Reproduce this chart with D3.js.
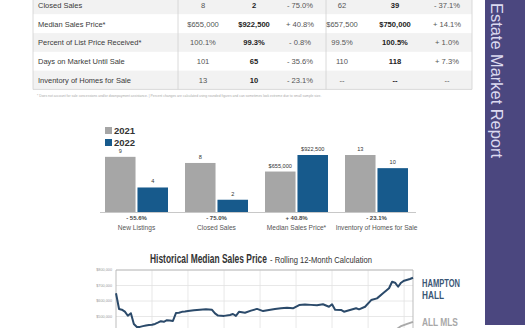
<!DOCTYPE html>
<html>
<head>
<meta charset="utf-8">
<script src="https://cdn.jsdelivr.net/npm/d3@7/dist/d3.min.js"></script>
<style>
  html, body { margin: 0; padding: 0; background: #fff; }
  svg { display: block; }
  text { font-family: "Liberation Sans", Arial, sans-serif; }
</style>
</head>
<body>
<svg id="chart" width="525" height="328"></svg>
<script>
// ---------- Table data ----------
const tableRows = ["Closed Sales", "Median Sales Price*", "Percent of List Price Received*", "Days on Market Until Sale", "Inventory of Homes for Sale"];
const month2021 = ["8", "$655,000", "100.1%", "101", "13"];
const month2022 = ["2", "$922,500", "99.3%", "65", "10"];
const monthChange = ["- 75.0%", "+ 40.8%", "- 0.8%", "- 35.6%", "- 23.1%"];
const ytd2021 = ["62", "$657,500", "99.5%", "110", "--"];
const ytd2022 = ["39", "$750,000", "100.5%", "118", "--"];
const ytdChange = ["- 37.1%", "+ 14.1%", "+ 1.0%", "+ 7.3%", "--"];
const footnote = "* Does not account for sale concessions and/or downpayment assistance.  |  Percent changes are calculated using rounded figures and can sometimes look extreme due to small sample size.";

// ---------- Bar chart data ----------
const barCategories = ["New Listings", "Closed Sales", "Median Sales Price*", "Inventory of Homes for Sale"];
const bar2021 = [9, 8, 655000, 13];
const bar2022 = [4, 2, 922500, 10];
const barLabels2021 = ["9", "8", "$655,000", "13"];
const barLabels2022 = ["4", "2", "$922,500", "10"];
const barChanges = ["- 55.6%", "- 75.0%", "+ 40.8%", "- 23.1%"];
const barDomainMax = [9.3, 9.3, 922500, 13];
const barSeries = ["2021", "2022"];

// ---------- Line chart data ----------
const hhDates = ["2014-01","2014-02","2014-03","2014-04","2014-05","2014-06","2014-07","2014-08","2014-09","2014-10","2014-11","2014-12",
  "2015-01","2015-02","2015-03","2015-04","2015-05","2015-06","2015-07","2015-08","2015-09","2015-10","2015-11","2015-12",
  "2016-01","2016-03","2016-05","2016-07","2016-09","2016-10","2016-11",
  "2017-01","2017-03","2017-04","2017-05","2017-06","2017-08","2017-10","2017-12",
  "2018-02","2018-04","2018-06","2018-08","2018-10","2018-12",
  "2019-02","2019-04","2019-06","2019-08","2019-10","2019-12",
  "2020-01","2020-02","2020-04","2020-05","2020-07","2020-09","2020-10","2020-12",
  "2021-02","2021-04","2021-06","2021-08","2021-09","2021-10","2021-11","2021-12",
  "2022-01","2022-03","2022-04"];
const hhValues = [650000,548000,544000,531000,505000,521000,452000,432000,433000,438000,442000,445000,
  447000,452000,460000,470000,466000,476000,474000,471000,522000,524000,530000,532000,
  535000,540000,544000,546000,543000,520000,506000,
  504000,510000,516000,504000,530000,524000,538000,549000,
  535000,542000,548000,553000,557000,553000,
  574000,578000,575000,572000,579000,563000,
  579000,543000,542000,531000,542000,553000,546000,563000,
  606000,617000,650000,682000,724000,718000,692000,718000,
  731000,742000,750000];
const mlsDates = ["2014-01","2015-01","2016-01","2017-01","2018-01","2019-01","2020-01","2021-01","2021-06","2021-10","2021-12","2022-02","2022-04"];
const mlsValues = [290000,305000,320000,332000,345000,352000,360000,380000,398000,412000,438000,452000,465000];
const yTicks = [500000, 600000, 700000, 800000];

// ---------- Helpers ----------
function fitWidth(sel, x, y, w) {
  const n = sel.node();
  const nat = n.getComputedTextLength();
  sel.attr("x", 0).attr("y", 0).attr("transform", `translate(${x},${y}) scale(${w / nat},1)`);
}

// ---------- Drawing ----------
const svg = d3.select("#chart");
const fmt = d3.format("$,");

// Table
const rowY = d3.scaleBand().domain(tableRows).range([-4.4, 89.4]);
const tbl = svg.append("g");
tbl.selectAll("rect.row").data(tableRows).enter().append("rect")
  .attr("x", 33).attr("width", 439)
  .attr("y", d => rowY(d)).attr("height", rowY.bandwidth())
  .attr("fill", (d, i) => i % 2 === 0 ? "#f2f2f2" : "#ffffff");
[33, 178, 326, 472].forEach(x => tbl.append("line")
  .attr("x1", x).attr("x2", x).attr("y1", 0).attr("y2", 89.4)
  .attr("stroke", "#d0d0d0").attr("stroke-width", 0.8));
tbl.append("line").attr("x1", 33).attr("x2", 472).attr("y1", 89.4).attr("y2", 89.4)
  .attr("stroke", "#d0d0d0").attr("stroke-width", 0.8);
tbl.selectAll("text.lbl").data(tableRows).enter().append("text")
  .attr("x", 38).attr("y", d => rowY(d) + rowY.bandwidth() / 2 + 2.8)
  .attr("font-size", 7.5).attr("fill", "#3a3a3a").text(d => d);
const cols = [
  {vals: month2021, x: 203, bold: false},
  {vals: month2022, x: 254, bold: true},
  {vals: monthChange, x: 300, bold: false},
  {vals: ytd2021, x: 342, bold: false},
  {vals: ytd2022, x: 395, bold: true},
  {vals: ytdChange, x: 447, bold: false}
];
cols.forEach(c => {
  tbl.selectAll(null).data(c.vals).enter().append("text")
    .attr("x", c.x).attr("y", (d, i) => rowY(tableRows[i]) + rowY.bandwidth() / 2 + 2.8)
    .attr("text-anchor", "middle").attr("font-size", 7.6)
    .attr("font-weight", c.bold ? "bold" : "normal")
    .attr("fill", c.bold ? "#222" : "#555").text(d => d);
});
svg.append("text").attr("x", 37).attr("y", 97).attr("font-size", 3.4).attr("fill", "#aaa").text(footnote);

// Sidebar
svg.append("rect").attr("x", 485).attr("y", 0).attr("width", 40).attr("height", 325).attr("fill", "#4b477f");
svg.append("text").attr("transform", "translate(491,3) rotate(90)")
  .attr("font-family", "Lato, 'Open Sans', sans-serif").attr("font-weight", 300)
  .attr("font-size", 16).attr("fill", "#dcdaf0")
  .attr("textLength", 155).attr("lengthAdjust", "spacingAndGlyphs")
  .text("Estate Market Report");

// Bar chart
const baseY = 212, maxH = 57;
const x0 = d3.scaleBand().domain(barCategories).range([105, 408]).paddingInner(0.2125).paddingOuter(0);
const x1 = d3.scaleBand().domain(barSeries).range([0, x0.bandwidth()]).paddingInner(0.06);
const barColor = d3.scaleOrdinal().domain(barSeries).range(["#a6a6a6", "#175a8c"]);
const ys = barDomainMax.map(m => d3.scaleLinear().domain([0, m]).range([baseY, baseY - maxH]));
const bg = svg.append("g");
barCategories.forEach((cat, i) => {
  const g = bg.append("g").attr("transform", `translate(${x0(cat)},0)`);
  const vals = [
    {s: "2021", v: bar2021[i], l: barLabels2021[i]},
    {s: "2022", v: bar2022[i], l: barLabels2022[i]}
  ];
  g.selectAll("rect").data(vals).enter().append("rect")
    .attr("x", d => x1(d.s)).attr("width", x1.bandwidth())
    .attr("y", d => ys[i](d.v)).attr("height", d => baseY - ys[i](d.v))
    .attr("fill", d => barColor(d.s));
  g.selectAll("text").data(vals).enter().append("text")
    .attr("x", d => x1(d.s) + x1.bandwidth() / 2).attr("y", d => ys[i](d.v) - 4)
    .attr("text-anchor", "middle").attr("font-size", 5.6).attr("fill", "#333").text(d => d.l);
  bg.append("text").attr("x", x0(cat) + x0.bandwidth() / 2).attr("y", 220)
    .attr("text-anchor", "middle").attr("font-size", 6).attr("font-weight", "bold").attr("fill", "#444").text(barChanges[i]);
  bg.append("text").attr("x", x0(cat) + x0.bandwidth() / 2).attr("y", 230)
    .attr("text-anchor", "middle").attr("font-size", 6.6).attr("fill", "#555").text(cat);
});
bg.append("line").attr("x1", 100).attr("x2", 416).attr("y1", baseY + 0.5).attr("y2", baseY + 0.5)
  .attr("stroke", "#c8c8c8").attr("stroke-width", 1);
barSeries.forEach((s, i) => {
  bg.append("rect").attr("x", 105).attr("y", 127 + i * 12).attr("width", 7).attr("height", 7).attr("fill", barColor(s));
  bg.append("text").attr("x", 114).attr("y", 134 + i * 12).attr("font-size", 9.5).attr("font-weight", "bold").attr("fill", "#333").text(s);
});

// Line chart
const parse = d3.timeParse("%Y-%m");
const xT = d3.scaleTime().domain([parse("2014-01"), parse("2022-04")]).range([116, 413]);
const yL = d3.scaleLinear().domain([300000, 800000]).range([347.5, 270]);
const lg = svg.append("g");
lg.append("g").selectAll("line").data(yTicks).enter().append("line")
  .attr("x1", 116).attr("x2", 413).attr("y1", d => yL(d)).attr("y2", d => yL(d))
  .attr("stroke", "#e2e2e2").attr("stroke-width", 0.8);
const years = d3.timeYear.range(parse("2015-01"), parse("2022-02"));
lg.append("g").selectAll("line").data(years).enter().append("line")
  .attr("x1", d => xT(d)).attr("x2", d => xT(d)).attr("y1", 270).attr("y2", 340)
  .attr("stroke", "#e2e2e2").attr("stroke-width", 0.8);
lg.append("path").attr("d", `M116,340V270H413V340`).attr("fill", "none").attr("stroke", "#b5b5b5").attr("stroke-width", 0.9);
lg.selectAll("text.yt").data(yTicks).enter().append("text")
  .attr("x", 112).attr("y", d => yL(d) + 1.3).attr("text-anchor", "end")
  .attr("font-size", 3.8).attr("fill", "#999").text(d => fmt(d));
const line = d3.line().x(d => xT(d[0])).y(d => yL(d[1]));
lg.append("path").datum(mlsDates.map((d, i) => [parse(d), mlsValues[i]]))
  .attr("d", line).attr("fill", "none").attr("stroke", "#a9a9a9").attr("stroke-width", 1.8);
lg.append("path").datum(hhDates.map((d, i) => [parse(d), hhValues[i]]))
  .attr("d", line).attr("fill", "none").attr("stroke", "#2b4a6a").attr("stroke-width", 2).attr("stroke-linejoin", "round");

// Title
const t1 = svg.append("text").attr("font-size", 13).attr("font-weight", "bold").attr("fill", "#333")
  .text("Historical Median Sales Price");
fitWidth(t1, 150, 263, 117);
const t2 = svg.append("text").attr("font-size", 9).attr("fill", "#333")
  .text("- Rolling 12-Month Calculation");
fitWidth(t2, 270, 263, 102);

// Line labels
const ll = [
  {t: "HAMPTON", y: 287.3, w: 38, c: "#3a5675"},
  {t: "HALL", y: 299.3, w: 22, c: "#3a5675"},
  {t: "ALL MLS", y: 325.7, w: 36, c: "#a8a8a8"}
];
ll.forEach(d => {
  const t = svg.append("text").attr("font-weight", "bold").attr("font-size", 10).attr("fill", d.c).text(d.t);
  fitWidth(t, 422, d.y, d.w);
});
</script>
</body>
</html>
